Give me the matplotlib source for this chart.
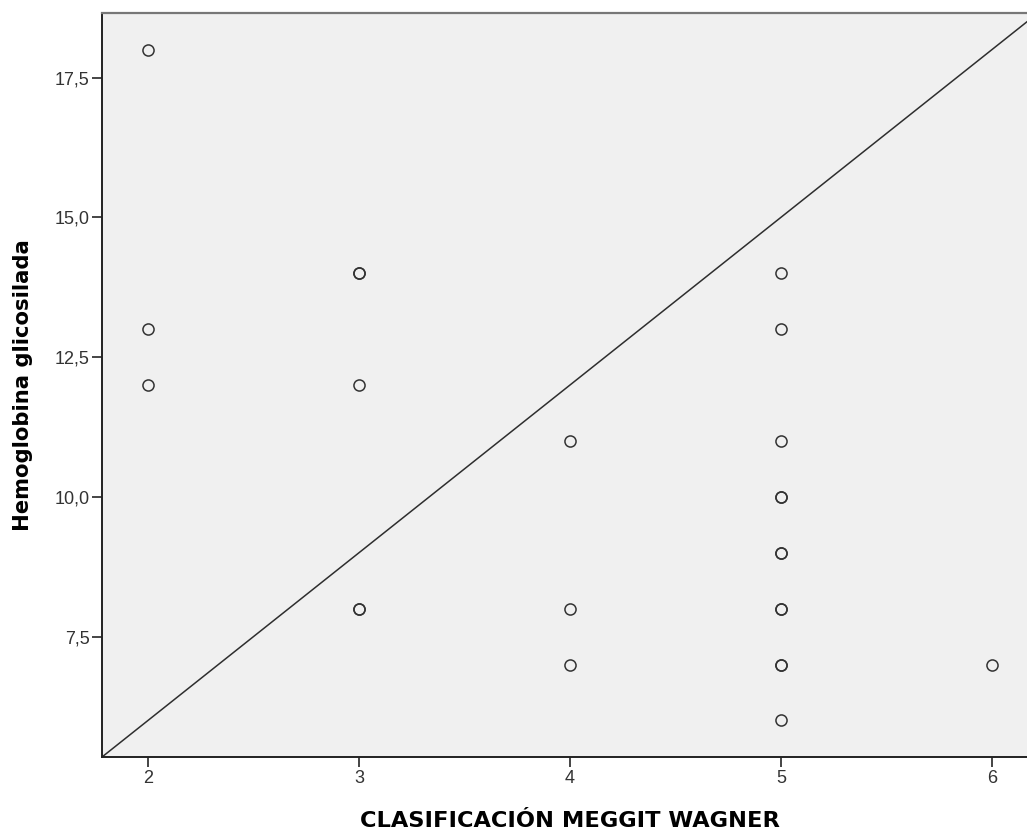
import matplotlib
matplotlib.use("Agg")
import matplotlib.pyplot as plt
import numpy as np

# Clasificacion Meggit Wagner vs hemoglobina glicosilada (repeated values drawn twice)
wagner = [2, 2, 2, 3, 3, 3, 3, 3, 4, 4, 4, 5, 5, 5, 5, 5, 5, 5, 5, 5, 5, 5, 5, 6]
hba1c = [18, 13, 12, 14, 14, 12, 8, 8, 11, 8, 7, 14, 13, 11, 10, 10, 9, 9, 8, 8, 7, 7, 6, 7]

xticks = [2, 3, 4, 5, 6]
yticks = [7.5, 10.0, 12.5, 15.0, 17.5]
ytick_labels = ["7,5", "10,0", "12,5", "15,0", "17,5"]
xlim = (1.782, 6.218)
ref_slope = 3.0

plt.rcParams['font.family'] = ['Liberation Sans', 'DejaVu Sans']

fig = plt.figure(figsize=(10.27, 8.34), dpi=100)
ax = fig.add_axes([0.0993, 0.0923, 0.9114, 0.8921])
ax.set_facecolor('#f0f0f0')

ax.plot(wagner, hba1c, 'o', markersize=8, markerfacecolor='none',
        markeredgecolor='#333333', markeredgewidth=1.1, linestyle='none', zorder=3)

lx = np.array(xlim)
ax.plot(lx, ref_slope * lx, color='#2e2e2e', linewidth=1.1, zorder=2)

ax.set_xlim(*xlim)
ax.set_ylim(ref_slope * xlim[0], ref_slope * xlim[1])

ax.set_xticks(xticks)
ax.set_yticks(yticks)
ax.set_yticklabels(ytick_labels)
ax.tick_params(direction='out', length=7, width=1.4, color='#444444',
               labelsize=13, labelcolor='#333333', pad=2)

for s in ['left', 'bottom']:
    ax.spines[s].set_color('#222222')
    ax.spines[s].set_linewidth(1.4)
ax.spines['top'].set_color('#777777')
ax.spines['top'].set_linewidth(1.6)
ax.spines['right'].set_visible(False)

ax.set_xlabel('CLASIFICACIÓN MEGGIT WAGNER', fontsize=16.2, fontweight='bold',
              family=['DejaVu Sans'])
ax.set_ylabel('Hemoglobina glicosilada', fontsize=15.2, fontweight='bold',
              family=['DejaVu Sans'])
ax.xaxis.set_label_coords(0.5, -0.073)
ax.yaxis.set_label_coords(-0.074, 0.5)

fig.savefig('out.png', dpi=100)
